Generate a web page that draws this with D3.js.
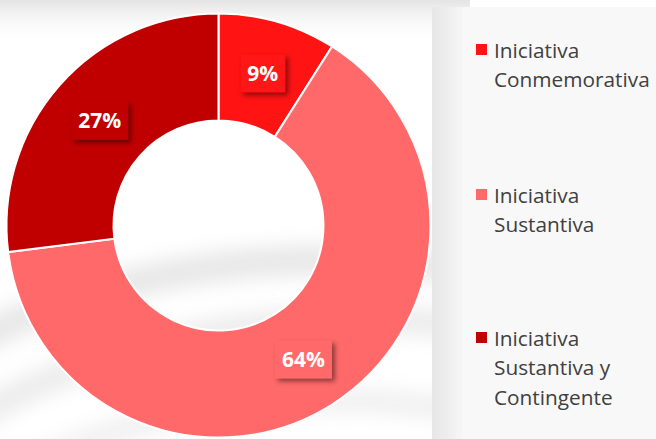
<!DOCTYPE html>
<html><head><meta charset="utf-8">
<script src="https://cdn.jsdelivr.net/npm/d3@7/dist/d3.min.js"></script>
<style>html,body{margin:0;padding:0;background:#fff;overflow:hidden}</style>
</head><body>
<svg id="c" width="656" height="439"></svg>
<script>
const categories = ["Iniciativa Conmemorativa", "Iniciativa Sustantiva", "Iniciativa Sustantiva y Contingente"];
const legendLines = [["Iniciativa", "Conmemorativa"], ["Iniciativa", "Sustantiva"], ["Iniciativa", "Sustantiva y", "Contingente"]];
const values = [9, 64, 27];
const labels = ["9%", "64%", "27%"];
const colors = ["#ff1313", "#ff6969", "#c00000"];

const W = 656, H = 439;
const svg = d3.select("#c");
const defs = svg.append("defs");
const blur = defs.append("filter").attr("id","blur").attr("x","-20%").attr("y","-20%").attr("width","140%").attr("height","140%");
blur.append("feGaussianBlur").attr("stdDeviation", 10);
const sh = defs.append("filter").attr("id","sh").attr("x","-30%").attr("y","-30%").attr("width","170%").attr("height","170%");
sh.append("feDropShadow").attr("dx",3).attr("dy",3).attr("stdDeviation",2.5).attr("flood-color","#000").attr("flood-opacity",0.45);
const tg = defs.append("linearGradient").attr("id","tg").attr("x1",0).attr("y1",0).attr("x2",0).attr("y2",1);
tg.append("stop").attr("offset",0).attr("stop-color","#e4e4e4");
tg.append("stop").attr("offset",1).attr("stop-color","#ffffff").attr("stop-opacity",0);
const vg = defs.append("linearGradient").attr("id","vg").attr("x1",0).attr("y1",0).attr("x2",1).attr("y2",0);
vg.append("stop").attr("offset",0).attr("stop-color","#e6e6e6");
vg.append("stop").attr("offset",1).attr("stop-color","#f6f6f6");

// background decoration
const bg = svg.append("g");
bg.append("rect").attr("x",0).attr("y",0).attr("width",W).attr("height",H).attr("fill","#fff");
bg.append("rect").attr("x",0).attr("y",0).attr("width",470).attr("height",45).attr("fill","url(#tg)");
bg.append("ellipse").attr("cx",330).attr("cy",560).attr("rx",520).attr("ry",300)
  .attr("fill","none").attr("stroke","#d4d4d4").attr("stroke-width",30).attr("opacity",0.55).attr("filter","url(#blur)");
bg.append("ellipse").attr("cx",360).attr("cy",620).attr("rx",520).attr("ry",300)
  .attr("fill","none").attr("stroke","#d8d8d8").attr("stroke-width",26).attr("opacity",0.5).attr("filter","url(#blur)");
bg.append("ellipse").attr("cx",330).attr("cy",700).attr("rx",480).attr("ry",300)
  .attr("fill","none").attr("stroke","#dcdcdc").attr("stroke-width",22).attr("opacity",0.45).attr("filter","url(#blur)");
bg.append("rect").attr("x",432).attr("y",7).attr("width",31).attr("height",H-7).attr("fill","url(#vg)");

// legend panel
svg.append("rect").attr("x",463).attr("y",7).attr("width",W-463).attr("height",H-7).attr("fill","#f8f8f8");

// donut
const cx = 218.5, cy = 225.5, rO = 212, rI = 105;
const pie = d3.pie().sort(null).value(d => d)(values);
const arc = d3.arc().innerRadius(rI).outerRadius(rO);
const g = svg.append("g").attr("transform",`translate(${cx},${cy})`);
g.selectAll("path.s").data(pie).join("path").attr("class","s")
  .attr("d", arc).attr("fill",(d,i)=>colors[i]).attr("stroke","#fff").attr("stroke-width",2);

// data labels
const lab = d3.arc().innerRadius((rI+rO)/2).outerRadius((rI+rO)/2);
pie.forEach((d,i) => {
  const [x,y] = lab.centroid(d);
  const lg = g.append("g").attr("transform",`translate(${x},${y})`);
  const rect = lg.append("rect").attr("fill",colors[i]).attr("filter","url(#sh)");
  const t = lg.append("text").text(labels[i]).attr("text-anchor","middle").attr("dy","0.35em")
    .attr("font-family","'Open Sans', sans-serif").attr("font-weight",700).attr("font-size",21).attr("fill","#fff");
  const bb = t.node().getBBox();
  const pw = bb.width + 14, ph = 38;
  rect.attr("x",-pw/2).attr("y",-ph/2).attr("width",pw).attr("height",ph);
});

// legend
const itemY = [44, 189, 332];
const lgd = svg.append("g");
categories.forEach((c,i) => {
  lgd.append("rect").attr("x",476).attr("y",itemY[i]).attr("width",11).attr("height",11).attr("fill",colors[i]);
  const t = lgd.append("text").attr("font-family","'Open Sans', sans-serif").attr("font-size",20.8).attr("fill","#404040");
  legendLines[i].forEach((ln,j) => {
    t.append("tspan").attr("x",494).attr("y",itemY[i]+13.5+j*29.5).text(ln);
  });
});
</script>
</body></html>
